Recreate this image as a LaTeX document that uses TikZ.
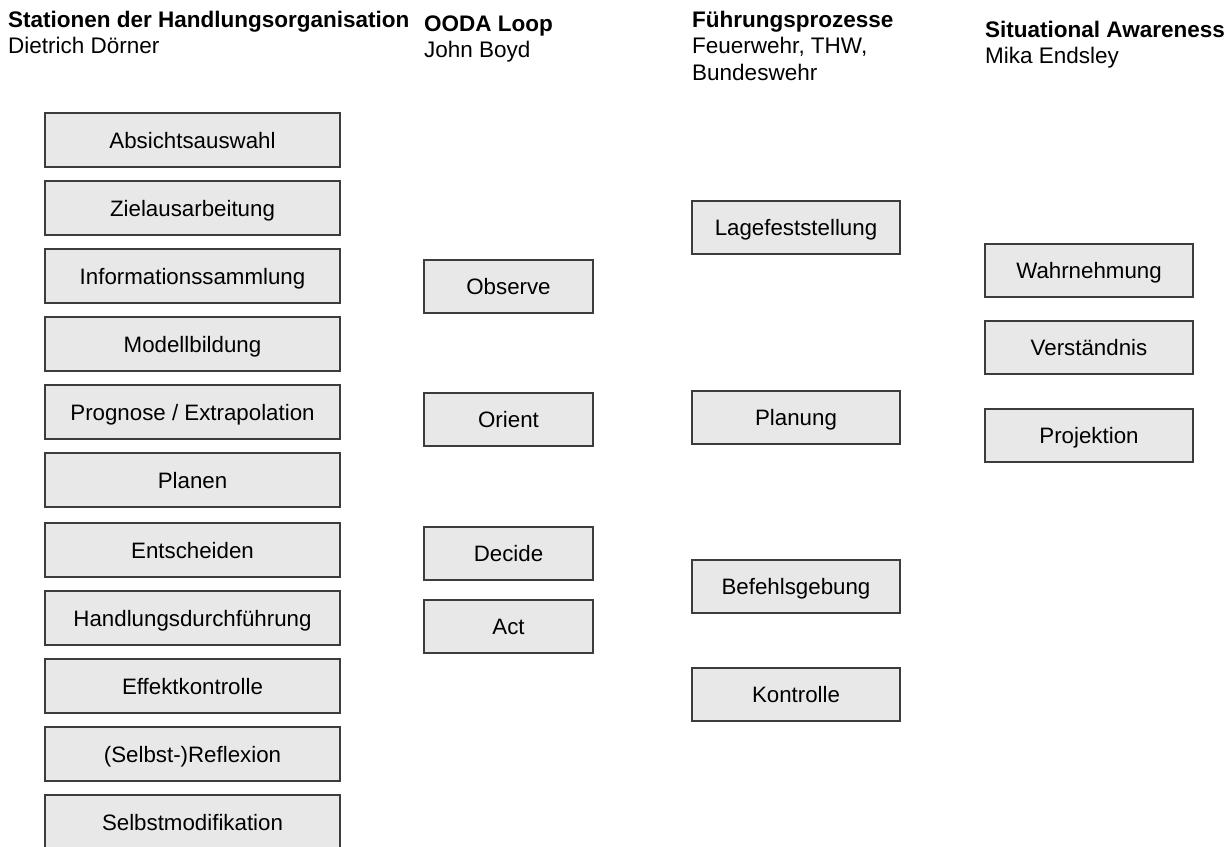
\documentclass[tikz,border=0pt]{standalone}
\usepackage{fontspec}
\setmainfont{Liberation Sans}
\definecolor{boxfill}{HTML}{E8E8E8}
\definecolor{boxline}{HTML}{3C3C3C}
\begin{document}
\begin{tikzpicture}[x=1pt,y=-1pt,
  stationbox/.style={draw=boxline, fill=boxfill, line width=1.4pt, rectangle, inner sep=0pt,
     text height=16pt, text depth=0pt,
     font=\fontsize{22.3}{26}\selectfont, text=black},
  colA/.style={stationbox, minimum width=295pt, minimum height=54pt},
  colB/.style={stationbox, minimum width=169pt, minimum height=53pt},
  colC/.style={stationbox, minimum width=208pt, minimum height=53pt},
  headbold/.style={anchor=base west, inner sep=0pt, font=\fontsize{22.5}{26}\selectfont\bfseries},
  headtext/.style={anchor=base west, inner sep=0pt, font=\fontsize{22.5}{26}\selectfont}]
\useasboundingbox (0,0) rectangle (1228,846);
\fill[white] (0,0) rectangle (1228,846);
\begin{scope}
\clip (0,0) rectangle (1228,846);
% headers
\node[headbold] (h1) at (8,27) {Stationen der Handlungsorganisation};
\node[headtext] (h1b) at (8,53) {Dietrich Dörner};
\node[headbold] (h2) at (424,31) {OODA Loop};
\node[headtext] (h2b) at (424,57) {John Boyd};
\node[headbold] (h3) at (692,27) {Führungsprozesse};
\node[headtext] (h3b) at (692,53) {Feuerwehr, THW,};
\node[headtext] (h3c) at (692,80) {Bundeswehr};
\node[headbold] (h4) at (985,37) {Situational Awareness};
\node[headtext] (h4b) at (985,63) {Mika Endsley};
% column 1
\node[colA] (a1) at (192.5,140) {Absichtsauswahl};
\node[colA] (a2) at (192.5,208) {Zielausarbeitung};
\node[colA] (a3) at (192.5,276) {Informationssammlung};
\node[colA] (a4) at (192.5,344) {Modellbildung};
\node[colA] (a5) at (192.5,412) {Prognose / Extrapolation};
\node[colA] (a6) at (192.5,480) {Planen};
\node[colA] (a7) at (192.5,550) {Entscheiden};
\node[colA] (a8) at (192.5,618) {Handlungsdurchführung};
\node[colA] (a9) at (192.5,686) {Effektkontrolle};
\node[colA] (a10) at (192.5,754) {(Selbst-)Reflexion};
\node[colA] (a11) at (192.5,822) {Selbstmodifikation};
% column 2
\node[colB] (b1) at (508.5,286.5) {Observe};
\node[colB] (b2) at (508.5,419.5) {Orient};
\node[colB] (b3) at (508.5,553.5) {Decide};
\node[colB] (b4) at (508.5,626.5) {Act};
% column 3
\node[colC] (c1) at (796,227.5) {Lagefeststellung};
\node[colC] (c2) at (796,417.5) {Planung};
\node[colC] (c3) at (796,586.5) {Befehlsgebung};
\node[colC] (c4) at (796,694.5) {Kontrolle};
% column 4
\node[colC] (d1) at (1089,270.5) {Wahrnehmung};
\node[colC] (d2) at (1089,347.5) {Verständnis};
\node[colC] (d3) at (1089,435.5) {Projektion};
\end{scope}
\end{tikzpicture}
\end{document}
